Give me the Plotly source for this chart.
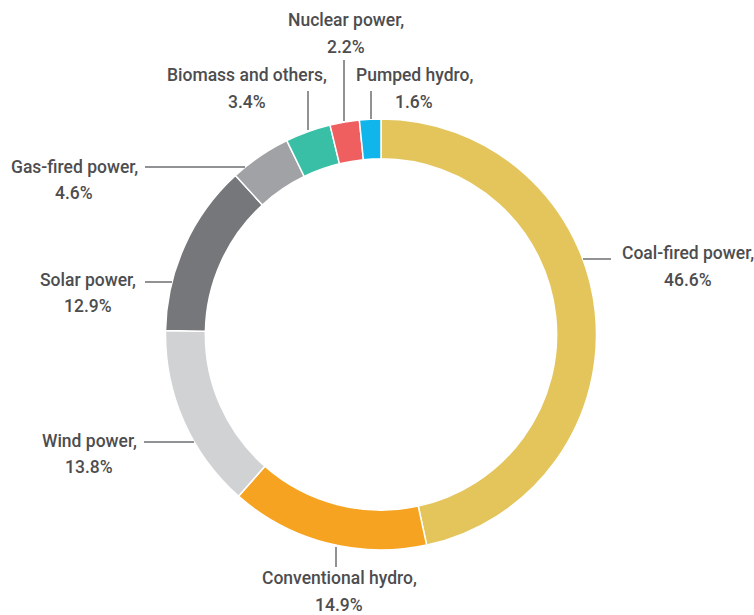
import plotly.graph_objects as go

# Power generation mix (share of total, %)
sources = ["Coal-fired power", "Conventional hydro", "Wind power", "Solar power",
           "Gas-fired power", "Biomass and others", "Nuclear power", "Pumped hydro"]
shares = [46.6, 14.9, 13.8, 12.9, 4.6, 3.4, 2.2, 1.6]
colors = ["#E4C55B", "#F6A321", "#D1D2D4", "#76777A",
          "#A1A2A5", "#38BFA6", "#EF5F5F", "#0FB5EB"]

W, H = 754, 615
FONT = "Roboto, sans-serif"
TEXT_COLOR = "#4D4D4F"
LINE_COLOR = "#6D6E71"
LINE_GAP = 26.5  # distance between the name line and the percentage line

# Label centres (x, y of the name line) and leader-line endpoints, in pixels
label_pos = {
    "Coal-fired power": (688, 253.5),
    "Conventional hydro": (339, 578),
    "Wind power": (89, 440.5),
    "Solar power": (88, 280),
    "Gas-fired power": (74, 166.5),
    "Biomass and others": (247, 75),
    "Nuclear power": (346, 20.5),
    "Pumped hydro": (414, 75),
}
leaders = {
    "Coal-fired power": (583, 259, 611, 259),
    "Conventional hydro": (336, 547, 336, 567),
    "Wind power": (144, 442, 194, 442),
    "Solar power": (145, 282, 172, 282),
    "Gas-fired power": (145, 167, 245, 167),
    "Biomass and others": (308, 91, 308, 130),
    "Nuclear power": (344, 60, 344, 121),
    "Pumped hydro": (371, 91, 371, 119),
}


def px(x):
    return x / W


def py(y):
    return 1 - y / H


cx, cy, r = 381, 334.5, 215.5

fig = go.Figure(go.Pie(
    labels=sources,
    values=shares,
    sort=False,
    direction="clockwise",
    rotation=0,
    hole=0.815,
    marker=dict(colors=colors, line=dict(color="white", width=1.5)),
    textinfo="none",
    hoverinfo="label+percent",
    showlegend=False,
    domain=dict(x=[px(cx - r), px(cx + r)], y=[py(cy + r), py(cy - r)]),
))

label_font = dict(family=FONT, size=17.5, color=TEXT_COLOR, weight=500)
annotations = []
shapes = []
for name, val in zip(sources, shares):
    lx, ly = label_pos[name]
    for text, y in ((f"{name},", ly), (f"{val:.1f}%", ly + LINE_GAP)):
        annotations.append(dict(
            x=px(lx), y=py(y), xref="paper", yref="paper",
            text=text, showarrow=False,
            xanchor="center", yanchor="middle", align="center",
            font=label_font,
        ))
    x0, y0, x1, y1 = leaders[name]
    shapes.append(dict(
        type="line", xref="paper", yref="paper",
        x0=px(x0), y0=py(y0), x1=px(x1), y1=py(y1),
        line=dict(color=LINE_COLOR, width=1.5),
    ))

fig.update_layout(
    width=W, height=H,
    margin=dict(l=0, r=0, t=0, b=0),
    paper_bgcolor="white", plot_bgcolor="white",
    annotations=annotations, shapes=shapes,
)

fig.write_html("out.html")
